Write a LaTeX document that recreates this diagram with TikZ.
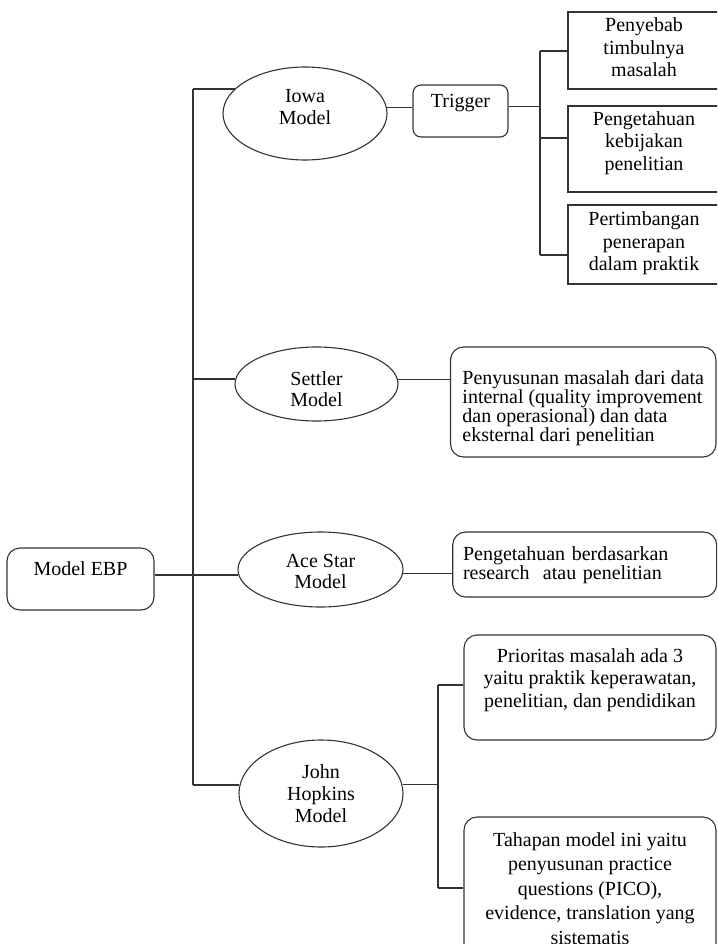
\documentclass[tikz,border=0pt]{standalone}
\usepackage{fontspec}
\setmainfont{Liberation Serif}
\usetikzlibrary{shapes.geometric,positioning}

\begin{document}
\begin{tikzpicture}[ x=1pt , y=-1pt , on grid , line width=1.1pt , draw=black!80 ,
  font=\fontsize{20}{22.5}\selectfont ,
  modelnode/.style={ ellipse , draw , inner sep=0pt , align=center , font=\fontsize{20}{21.5}\selectfont } ,
  itembox/.style={ rectangle , draw , inner sep=0pt , minimum width=152pt , align=center } ,
  descbox/.style={ rectangle , draw , rounded corners=13pt , inner ysep=0pt } ]
\useasboundingbox (0,0) rectangle (717,944);
\clip (0,0) rectangle (717,944);

\node [ descbox , minimum width=147pt , text height=27pt , text depth=35pt ] (ebp) at (80.5,579) {Model EBP};

\node [ modelnode , minimum width=164pt , minimum height=93pt , text height=43.5pt , text depth=21.5pt ] (iowa) at (305,113.5) {Iowa\\Model};
\node [ modelnode , minimum width=163pt , minimum height=74pt , text height=48.5pt , text depth=3.5pt ] (settler) at (316.5,384) {Settler\\Model};
\node [ modelnode , minimum width=165pt , minimum height=75pt , text height=45.5pt , text depth=7.5pt ] (acestar) at (320.5,569.5) {Ace Star\\Model};
\node [ modelnode , minimum width=164pt , minimum height=107pt , text height=66pt , text depth=9pt , font=\fontsize{20}{22}\selectfont ] (hopkins) at (321,793.5) {John\\Hopkins\\Model};

\node [ descbox , rounded corners=8pt , minimum width=95pt , text height=23pt , text depth=29pt ] (trig) at (460.5,111) {Trigger};
\node [ itembox , text height=65pt , text depth=12pt ] (t_1) at (644,50.5) {Penyebab\\timbulnya\\masalah};
\node [ itembox , text height=64.5pt , text depth=21.5pt ] (t_2) [ below = 98.5pt of t_1 ] {Pengetahuan\\kebijakan\\penelitian};
\node [ itembox , text height=65.5pt , text depth=13.5pt ] (t_3) [ below = 95.5pt of t_2 ] {Pertimbangan\\penerapan\\dalam praktik};

\node [ descbox , minimum width=265.5pt , text height=94pt , text depth=16pt , align=left , font=\fontsize{20}{19}\selectfont ] (s_1) at (583.25,402)
  {Penyusunan masalah dari data\\internal (quality improvement\\dan operasional) dan data\\eksternal dari penelitian};
\node [ descbox , inner xsep=10.3pt , text width=243.4pt , text height=28pt , text depth=37pt , align=left , font=\fontsize{20}{18}\selectfont ] (a_1) at (584.7,564.5)
  {Pengetahuan berdasarkan\\research\ \ atau penelitian};
\node [ descbox , minimum width=252pt , text height=72pt , text depth=33pt , align=center ] (h_1) at (590,687.5)
  {Prioritas masalah ada 3\\yaitu praktik keperawatan,\\penelitian, dan pendidikan};
\node [ descbox , minimum width=252pt , text height=127pt , text depth=21pt , align=center , font=\fontsize{20}{24.5}\selectfont ] (h_2) [ below = 203.5pt of h_1 ]
  {Tahapan model ini yaitu\\penyusunan practice\\questions (PICO),\\evidence, translation yang\\sistematis};

\coordinate (r_1) at (193,89);
\coordinate (r_2) at (193,379);
\coordinate (r_3) at (193,575);
\coordinate (r_4) at (193,785);
\coordinate (b_0) at (540,106.7);
\coordinate (b_1) at (540,51);
\coordinate (b_2) at (540,138);
\coordinate (b_3) at (540,255);
\coordinate (c_1) at (438,685);
\coordinate (c_2) at (438,888);

\draw (r_1) -- (r_4);
\draw (r_1) -- (r_1 -| iowa.160.6);
\draw (r_2) -- (r_2 -| settler.176.5);
\draw (ebp.east |- r_3) -- (r_3) -- (r_3 -| acestar.183.9);
\draw (r_4) -- (r_4 -| hopkins.174);

\draw (iowa.4.8) -- (iowa.4.8 -| trig.west);
\draw (trig.east |- b_0) -- (b_0);
\draw (b_1) -- (b_3);
\draw (b_1) -- (b_1 -| t_1.west);
\draw (b_2) -- (b_2 -| t_2.west);
\draw (b_3) -- (b_3 -| t_3.west);

\draw (settler.3.5) -- (settler.3.5 -| s_1.west);
\draw (acestar.-3.9) -- (acestar.-3.9 -| a_1.west);

\draw (hopkins.6) -- (hopkins.6 -| c_1);
\draw (c_1) -- (c_2);
\draw (c_1) -- (c_1 -| h_1.west);
\draw (c_2) -- (c_2 -| h_2.west);
\end{tikzpicture}
\end{document}
